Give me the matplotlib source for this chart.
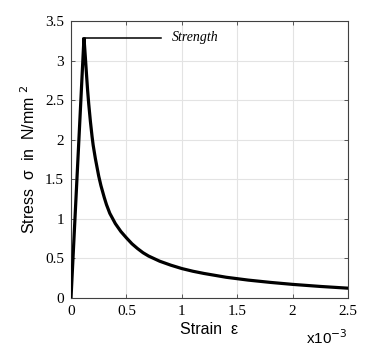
import numpy as np
import matplotlib
matplotlib.use("Agg")
import matplotlib.pyplot as plt
from matplotlib.ticker import FuncFormatter

# strain in units of 1e-3, stress in N/mm^2
strain = [0.0, 0.117, 0.125, 0.13, 0.14, 0.15, 0.16, 0.175, 0.19, 0.2, 0.22,
          0.25, 0.27, 0.3, 0.32, 0.35, 0.4, 0.45, 0.5, 0.55, 0.6, 0.65, 0.7,
          0.8, 0.9, 1.0, 1.1, 1.2, 1.4, 1.6, 1.8, 2.0, 2.25, 2.5]
stress = [0.0, 3.29, 3.13, 3.03, 2.82, 2.62, 2.45, 2.23, 2.04, 1.93, 1.76,
          1.54, 1.42, 1.27, 1.18, 1.07, 0.94, 0.84, 0.76, 0.685, 0.625, 0.572, 0.53,
          0.465, 0.415, 0.372, 0.338, 0.31, 0.262, 0.226, 0.197, 0.172, 0.146, 0.124]

peak_strain = 0.117
peak_stress = 3.29
label_end = 0.81

xticks = [0, 0.5, 1, 1.5, 2, 2.5]
yticks = [0, 0.5, 1, 1.5, 2, 2.5, 3, 3.5]

fig = plt.figure(figsize=(3.87, 3.54), dpi=100)
ax = fig.add_axes([0.1835, 0.1582, 0.7158, 0.7825])

ax.plot(strain, stress, color='black', lw=2.3, solid_joinstyle='miter', zorder=3)
ax.plot([peak_strain, label_end], [peak_stress, peak_stress], color='black', lw=1.1, zorder=3)
ax.text(0.91, peak_stress, 'Strength', family='Liberation Serif', style='italic',
        fontsize=10, va='center', ha='left')

ax.set_xlim(0, 2.5)
ax.set_ylim(0, 3.5)
ax.set_xticks(xticks)
ax.set_yticks(yticks)
fmt = FuncFormatter(lambda v, p: '%g' % v)
ax.xaxis.set_major_formatter(fmt)
ax.yaxis.set_major_formatter(fmt)
ax.grid(True, color='#e3e3e3', lw=0.8)
ax.set_axisbelow(True)
ax.tick_params(direction='in', top=True, right=True, length=3, width=0.6,
               color='#404040', labelsize=11, pad=5)
for lbl in ax.get_xticklabels() + ax.get_yticklabels():
    lbl.set_family('Liberation Serif')
for s in ax.spines.values():
    s.set_color('#404040')
    s.set_linewidth(0.8)

ax.set_xlabel('Strain  ε', family='Liberation Sans', fontsize=11.5, labelpad=3)
ax.set_ylabel('Stress  σ  in  N/mm $^2$', family='Liberation Sans', fontsize=11.5, labelpad=5)
ax.text(1.0, -0.11, 'x10$^{-3}$', transform=ax.transAxes, ha='right', va='top',
        family='Liberation Sans', fontsize=11)

fig.savefig('out.png', dpi=100)
